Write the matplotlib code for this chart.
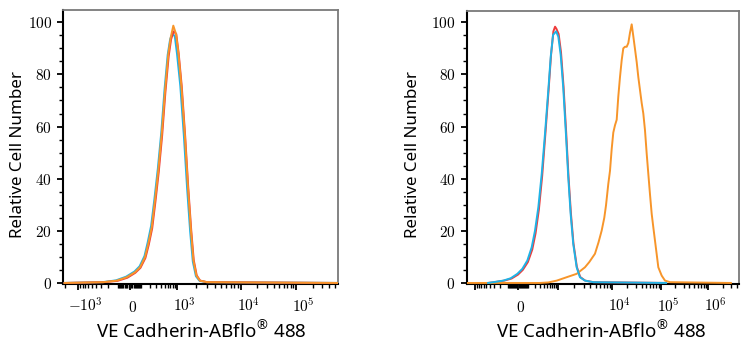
import numpy as np
import matplotlib
matplotlib.use("Agg")
import matplotlib.pyplot as plt
from matplotlib.transforms import ScaledTranslation

plt.rcParams["mathtext.fontset"] = "cm"

# ---------------- data (fluorescence intensity, relative cell number) ----------------
# Left panel
left_red_x = [-2000, -260, -100, -20, 45, 92, 145, 186, 236, 289, 355, 435, 525, 635, 730, 840,
              975, 1075, 1200, 1360, 1515, 1690, 1850, 2060, 2330, 3000, 600000]
left_red_y = [0, 0.3, 0.8, 2.0, 3.9, 5.8, 9.6, 14.6, 21.0, 31.0, 42.5, 56.5, 73.0, 87.0, 93.5, 96.5,
              95.5, 88.0, 75.5, 56.2, 37.0, 20.3, 8.8, 2.9, 0.9, 0.3, 0]
left_cyan_x = [-2000, -280, -115, -30, 38, 84, 134, 172, 220, 272, 336, 414, 500, 600, 690, 790,
               900, 1010, 1140, 1300, 1455, 1625, 1790, 2000, 2280, 2950, 600000]
left_cyan_y = [0, 0.3, 1.0, 2.4, 4.4, 6.4, 10.3, 15.5, 22.0, 32.2, 43.8, 57.8, 74.2, 87.5, 93.5, 95.8,
               94.5, 88.0, 75.5, 56.0, 36.5, 19.8, 8.2, 2.6, 0.8, 0.3, 0]
left_orange_x = [-2000, -268, -108, -25, 42, 88, 140, 180, 229, 281, 346, 425, 515, 622, 714, 826,
                 963, 1067, 1189, 1349, 1502, 1673, 1830, 2039, 2312, 2974, 600000]
left_orange_y = [0, 0.3, 0.9, 2.2, 4.1, 6.0, 9.9, 15.0, 21.4, 31.6, 43.1, 57.2, 73.8, 87.8, 94.2, 98.7,
                 95.5, 87.8, 75.1, 55.9, 36.8, 20.1, 8.6, 2.8, 0.9, 0.3, 0]

# Right panel
right_red_x = [-450, -300, -140, -60, 0, 48, 104, 162, 214, 276, 352, 440, 550, 650, 760, 850,
               930, 1050, 1160, 1290, 1445, 1590, 1760, 1960, 2260, 2600, 3200, 4550, 128000]
right_red_y = [0, 0.3, 0.9, 1.7, 3.2, 5.0, 8.0, 12.8, 19.0, 28.0, 41.0, 57.0, 74.0, 87.5, 96.5, 98.3,
               97.5, 95.5, 88.5, 75.5, 57.5, 41.0, 26.8, 15.2, 6.2, 2.3, 0.9, 0.3, 0]
right_cyan_x = [-450, -320, -153, -69, -6, 43, 98, 154, 205, 266, 341, 430, 540, 636, 743, 908,
                1034, 1144, 1276, 1429, 1574, 1741, 1942, 2241, 2574, 3175, 4500, 128000]
right_cyan_y = [0, 0.3, 0.9, 1.8, 3.5, 5.4, 8.6, 13.7, 20.1, 29.1, 41.9, 57.3, 74.0, 86.8, 95.1, 96.5,
                94.5, 87.5, 74.8, 57.0, 40.7, 26.5, 15.0, 6.0, 2.2, 0.9, 0.3, 0]
right_orange_x = [-2000, 300, 540, 952, 1472, 2241, 3175, 3805, 4833, 5598, 6407, 7145, 7674, 8455, 9078,
                  9750, 10484, 11360, 12310, 13280, 14390, 15600, 16820, 18230, 19750, 21320,
                  23090, 25020, 26980, 29250, 31700, 34190, 37040, 40140, 43330, 46900, 50840,
                  54830, 59430, 64420, 69500, 75300, 81600, 88100, 103500, 121500, 155000, 3000000]
right_orange_y = [0, 0, 0.2, 0.9, 2.2, 3.5, 6.0, 8.0, 11.2, 15.5, 20.1, 25.0, 29.7, 38.0, 43.0,
                  51.4, 57.7, 60.5, 62.6, 71.5, 79.0, 85.5, 90.0, 90.6, 90.6, 92.0,
                  96.0, 99.2, 94.7, 89.7, 84.7, 79.0, 74.0, 69.0, 65.0, 58.6, 49.6,
                  42.0, 34.0, 26.5, 21.4, 16.2, 11.0, 6.0, 2.8, 0.9, 0.3, 0]

y_ticks = [0, 20, 40, 60, 80, 100]
left_major = [-1e3, 0, 1e3, 1e4, 1e5]
left_labels = [r"$-10^{3}$", r"$0$", r"$10^{3}$", r"$10^{4}$", r"$10^{5}$"]
right_major = [-1e3, 0, 1e3, 1e4, 1e5, 1e6]
right_labels = ["", r"$0$", "", r"$10^{4}$", r"$10^{5}$", r"$10^{6}$"]

xlabel = r"VE Cadherin-ABflo$^{\mathregular{®}}$ 488"
ylabel = "Relative Cell Number"

RED = "#ee3b3b"
CYAN = "#1fb3e6"
ORANGE = "#f7952a"

# ---------------- biexponential-like scale ----------------
A = 150.0


def make_scale(vals, pos):
    vals = np.asarray(vals, float)
    pos = np.asarray(pos, float)
    tv = np.arcsinh(vals / A)
    s0 = (pos[1] - pos[0]) / (tv[1] - tv[0])
    s1 = (pos[-1] - pos[-2]) / (tv[-1] - tv[-2])

    def fwd(x):
        t = np.arcsinh(np.asarray(x, float) / A)
        out = np.interp(t, tv, pos)
        out = np.where(t < tv[0], pos[0] + (t - tv[0]) * s0, out)
        out = np.where(t > tv[-1], pos[-1] + (t - tv[-1]) * s1, out)
        return out

    def inv(p):
        p = np.asarray(p, float)
        t = np.interp(p, pos, tv)
        t = np.where(p < pos[0], tv[0] + (p - pos[0]) / s0, t)
        t = np.where(p > pos[-1], tv[-1] + (p - pos[-1]) / s1, t)
        t = np.clip(t, -40, 40)
        return A * np.sinh(t)

    return fwd, inv


def minor_ticks(lo, hi):
    out = []
    for k in range(1, 7):
        for m in range(1, 10):
            v = m * 10 ** k
            if m == 1 and k >= 3:
                continue
            for s in (1, -1):
                if lo <= s * v <= hi:
                    out.append(s * v)
    return sorted(out)


W, H = 752, 350
fig = plt.figure(figsize=(W / 100, H / 100), dpi=100)

panels = [
    dict(px=(63, 338), top=10, vals=left_major, pos=[78.3, 130, 176.7, 240.7, 296],
         labels=left_labels,
         series=[(left_cyan_x, left_cyan_y, CYAN), (left_red_x, left_red_y, RED),
                 (left_orange_x, left_orange_y, ORANGE)],
         xlab_x=201.7, ylab_x=18),
    dict(px=(466.7, 738.7), top=11, vals=right_major, pos=[475.3, 518, 557.5, 612.3, 661, 708.3],
         labels=right_labels,
         series=[(right_red_x, right_red_y, RED), (right_orange_x, right_orange_y, ORANGE),
                 (right_cyan_x, right_cyan_y, CYAN)],
         xlab_x=601, ylab_x=412.7),
]

bottom = 284
for P in panels:
    x0, x1 = P["px"]
    ax = fig.add_axes([x0 / W, 1 - bottom / H, (x1 - x0) / W, (bottom - P["top"]) / H])
    fwd, inv = make_scale(P["vals"], P["pos"])
    ax.set_xscale("function", functions=(fwd, inv))
    for xs, ys, c in P["series"]:
        ax.plot(xs, ys, color=c, lw=1.4, solid_joinstyle="round", zorder=3)
    lo, hi = float(inv(x0)), float(inv(x1))
    ax.set_xlim(lo, hi)
    ax.set_ylim(-0.4, (bottom - 0.4 * 2.607 - P["top"]) / 2.607)

    ax.set_xticks(P["vals"])
    ax.set_xticklabels(P["labels"])
    ax.set_xticks(minor_ticks(lo, hi), minor=True)
    ax.set_yticks(y_ticks)
    ax.set_yticklabels([r"$%d$" % v for v in y_ticks])
    ax.set_yticks(np.arange(0, 101, 5), minor=True)

    ax.tick_params(axis="both", which="major", length=4.5, width=1.3, color="black",
                   labelsize=11, direction="out")
    ax.tick_params(axis="both", which="minor", length=2.8, width=1.0, color="black", direction="out")
    ax.tick_params(axis="x", which="major", pad=15.8)
    ax.tick_params(axis="y", which="major", pad=3.5)
    for lab in ax.get_xticklabels():
        lab.set_va("baseline")
        off = 2.5 if lab.get_text() == r"$0$" else 7.5
        lab.set_transform(lab.get_transform() + ScaledTranslation(off / 100, 0, fig.dpi_scale_trans))

    for side in ("left", "bottom"):
        ax.spines[side].set_color("black")
        ax.spines[side].set_linewidth(1.5)
    for side in ("top", "right"):
        ax.spines[side].set_color("#7a7a7a")
        ax.spines[side].set_linewidth(1.3)

    ax.set_xlabel(xlabel, family="Noto Sans", fontsize=13.5, va="baseline")
    ax.xaxis.set_label_coords((P["xlab_x"] - x0) / (x1 - x0), (bottom - 338.3) / (bottom - P["top"]))
    ax.set_ylabel(ylabel, family="Noto Sans", fontsize=12.2, va="center")
    ax.yaxis.set_label_coords((P["ylab_x"] - x0) / (x1 - x0), (bottom - 154) / (bottom - P["top"]))

fig.savefig("out.png", dpi=100)
